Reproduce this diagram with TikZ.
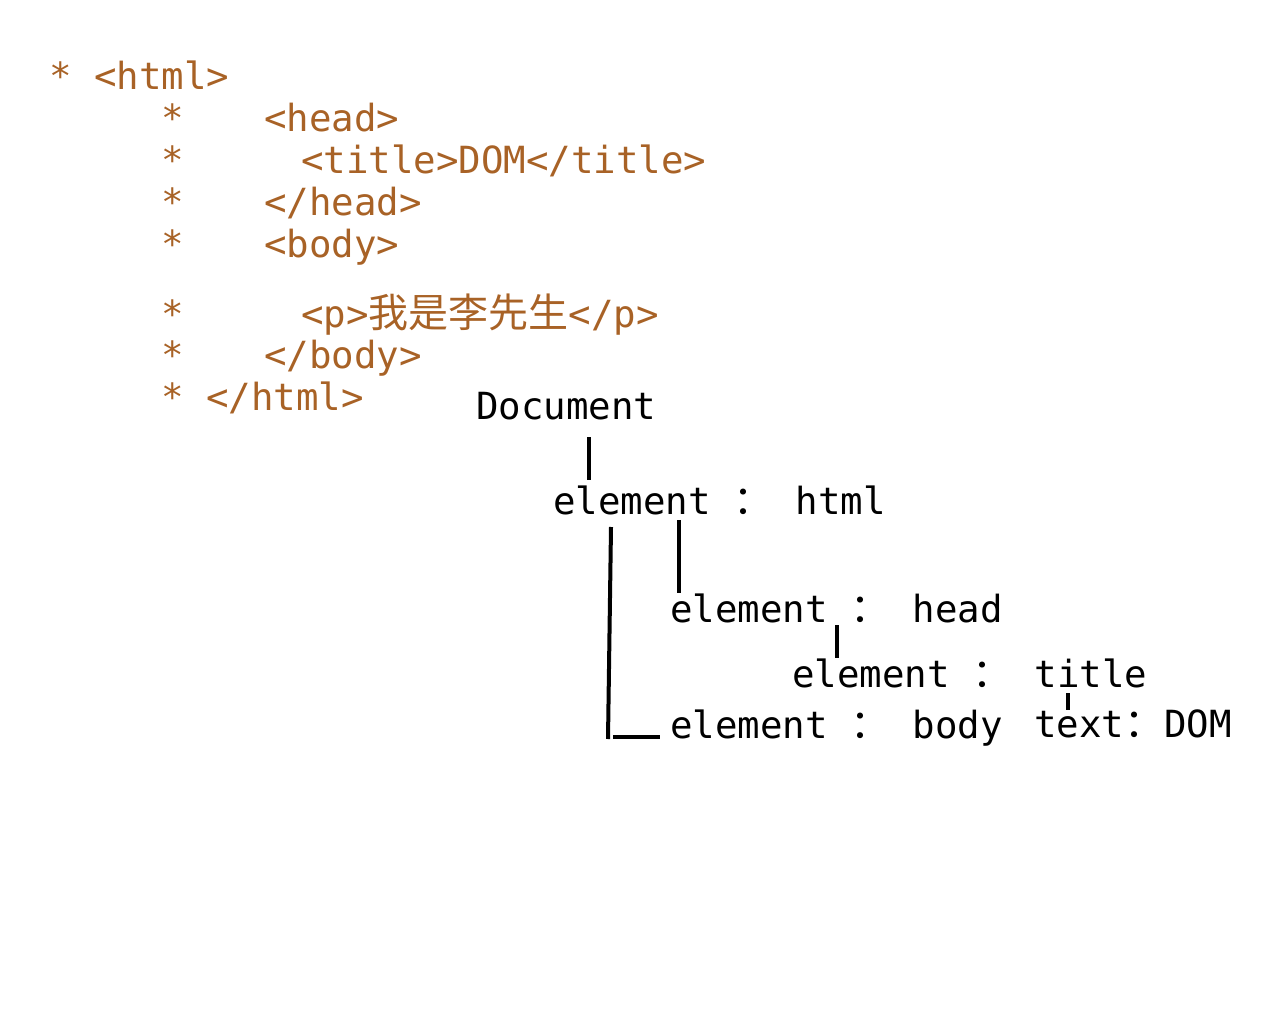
\documentclass[tikz,border=0pt]{standalone}
\usepackage{fontspec}
\setmainfont{DejaVu Sans Mono}
\newfontfamily\cjk{Noto Sans CJK SC}[Scale=1.07]
\definecolor{tagc}{RGB}{168,98,38}
\begin{document}
\begin{tikzpicture}[x=1pt,y=-1pt,
  txt/.style={anchor=base west,inner sep=0pt,font=\fontsize{37.4}{44}\selectfont},
  tag/.style={txt,text=tagc},
  link/.style={line width=4pt}]
\useasboundingbox (0,0) rectangle (1280,1024);
% source listing
\node[tag] (l1) at (49,90) {* <html>};
\node[tag] (s2) at (161,132) {*};
\node[tag] (l2) at (264,132) {<head>};
\node[tag] (s3) at (161,174) {*};
\node[tag] (l3) at (301,174) {<title>DOM</title>};
\node[tag] (s4) at (161,216) {*};
\node[tag] (l4) at (264,216) {</head>};
\node[tag] (s5) at (161,258) {*};
\node[tag] (l5) at (264,258) {<body>};
\node[tag] (s6) at (161,327) {*};
\node[tag] (l6) at (301,327) {<p>{\cjk 我是李先生}</p>};
\node[tag] (s7) at (161,369) {*};
\node[tag] (l7) at (264,369) {</body>};
\node[tag] (l8) at (161,410) {* </html>};
% DOM tree
\node[txt] (doc) at (476,419) {Document};
\node[txt] (ehtml) at (553,514) {element {\cjk ：} html};
\node[txt] (ehead) at (670,622) {element {\cjk ：} head};
\node[txt] (etitle) at (792,687) {element {\cjk ：} title};
\node[txt] (ebody) at (670,738) {element {\cjk ：} body};
\node[txt] (tdom) at (1034,737) {text{\cjk ：}DOM};
% connectors
\coordinate (a1) at (589,437); \coordinate (a2) at (589,480);
\coordinate (b1) at (611,527); \coordinate (b2) at (608,739);
\coordinate (c1) at (613,737); \coordinate (c2) at (660,737);
\coordinate (d1) at (679,520); \coordinate (d2) at (679,593);
\coordinate (e1) at (837,625); \coordinate (e2) at (837,658);
\coordinate (f1) at (1068,693); \coordinate (f2) at (1068,710);
\draw[link] (a1) -- (a2);
\draw[link] (b1) -- (b2);
\draw[link] (c1) -- (c2);
\draw[link] (d1) -- (d2);
\draw[link] (e1) -- (e2);
\draw[link] (f1) -- (f2);
\end{tikzpicture}
\end{document}
